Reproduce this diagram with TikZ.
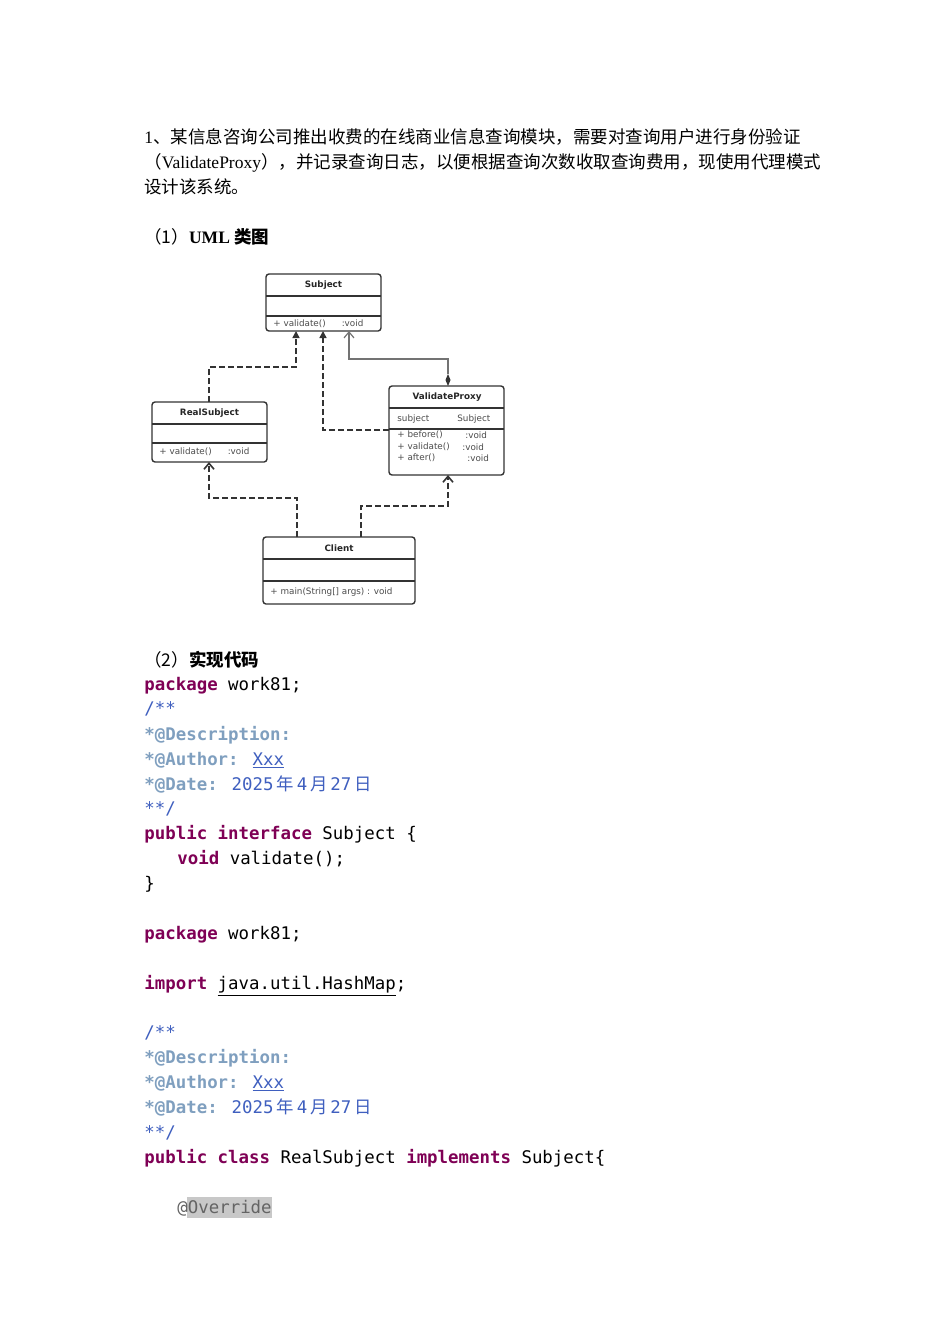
\documentclass[tikz,border=0pt]{standalone}
\usepackage{fontspec}
\setmainfont{Liberation Serif}
\newfontfamily\cjk{Noto Sans CJK SC}
\newfontfamily\umlf{DejaVu Sans}
\newfontfamily\codef{DejaVu Sans Mono}
\usetikzlibrary{arrows.meta}
\definecolor{kw}{HTML}{7F0055}
\definecolor{cm}{HTML}{3F5FBF}
\definecolor{tg}{HTML}{7F9FBF}
\definecolor{ov}{HTML}{646464}
\definecolor{ovbg}{HTML}{C8C8C8}
\tikzset{
 txt/.style={anchor=base west,inner sep=0pt,font=\fontsize{8.75}{10}\selectfont},
 code/.style={anchor=base west,inner sep=0pt,font=\codef\fontsize{8.7}{10}\selectfont},
 box/.style={draw=black!80,line width=0.7pt,rounded corners=1.5pt},
 sep/.style={draw=black!80,line width=0.6pt},
 uml/.style={inner sep=0pt,font=\umlf\fontsize{4.4}{5}\selectfont,text=black!70},
 umlh/.style={inner sep=0pt,font=\umlf\bfseries\fontsize{4.4}{5}\selectfont,text=black!85},
 dep/.style={draw=black!80,line width=0.8pt,dash pattern=on 3pt off 1.5pt},
 real/.style={-{Triangle[length=3.5pt,width=3.5pt]}},
 use/.style={-{Straight Barb[length=3pt,width=5pt]}},
}
\newcommand{\K}[1]{\textcolor{kw}{\bfseries #1}}
\newcommand{\T}[1]{\textcolor{tg}{\bfseries #1}}
\newcommand{\C}[1]{{\cjk #1}}
\begin{document}
\begin{tikzpicture}[x=0.5pt,y=-0.5pt]
\useasboundingbox[fill=white] (0,0) rectangle (950,1344);
% text
\node[txt] (l1) at (144,143) {1\C{、某信息咨询公司推出收费的在线商业信息查询模块，需要对查询用户进行身份验证}};
\node[txt] (l2) at (144,168) {\C{（}ValidateProxy\C{），并记录查询日志，以便根据查询次数收取查询费用，现使用代理模式}};
\node[txt] (l3) at (144,193) {\C{设计该系统。}};
\node[txt] (h1) at (144,243) {\C{（1）}\textbf{UML} \C{\bfseries 类图}};
\node[txt] (h2) at (144,666) {\C{（2）\bfseries 实现代码}};
% UML boxes
\draw[box] (266,274) rectangle (381,331);
\draw[sep] (266,296)--(381,296) (266,316)--(381,316);
\node[umlh] (sub) at (323.5,285) {Subject};
\node[uml,anchor=west] (subm) at (273,324) {+ validate()\hspace{8pt}:void};
\draw[box] (152,402) rectangle (267,462);
\draw[sep] (152,424)--(267,424) (152,443)--(267,443);
\node[umlh] (rs) at (209.5,413) {RealSubject};
\node[uml,anchor=west] (rsm) at (159,452) {+ validate()\hspace{8pt}:void};
\draw[box] (389,386) rectangle (504,475);
\draw[sep] (389,408)--(504,408) (389,429)--(504,429);
\node[umlh] (vp) at (447,397) {ValidateProxy};
\node[uml,anchor=west] (vpa) at (397,419) {subject};
\node[uml,anchor=west] (vpt) at (457,419) {Subject};
\node[uml,anchor=west] (vp1) at (397,435) {+ before()};
\node[uml,anchor=west] (vp2) at (397,447) {+ validate()};
\node[uml,anchor=west] (vp3) at (397,458) {+ after()};
\node[uml,anchor=west] (vr1) at (465,435) {:void};
\node[uml,anchor=west] (vr2) at (462,447) {:void};
\node[uml,anchor=west] (vr3) at (467,458) {:void};
\draw[box] (263,537) rectangle (415,604);
\draw[sep] (263,559)--(415,559) (263,581)--(415,581);
\node[umlh] (cl) at (339,548) {Client};
\node[uml,anchor=west] (clm) at (270,592) {+ main(String[] args) : void};
% connectors
\coordinate (a1) at (209,402); \coordinate (a2) at (296,331);
\draw[dep,real] (a1) |- (296,367) -- (a2);
\coordinate (b1) at (389,430); \coordinate (b2) at (323,331);
\draw[dep,real] (b1) -| (b2);
\coordinate (c1) at (448,374); \coordinate (c2) at (349,331);
\draw[black!55,line width=0.6pt,use] (c1) -- (448,359) -| (c2);
\fill[black!80] (448,386)--(450.5,380)--(448,374)--(445.5,380)--cycle;
\coordinate (d1) at (297,537); \coordinate (d2) at (209,462);
\draw[dep,use] (d1) |- (209,498) -- (d2);
\coordinate (e1) at (361,537); \coordinate (e2) at (448,475);
\draw[dep,use] (e1) |- (448,506) -- (e2);
% code
\node[code] (k1) at (144,690) {\K{package} work81;};
\node[code,text=cm] (k2) at (144,714) {/**};
\node[code] (k3) at (144,740) {\T{*@Description:}};
\node[code] (k4) at (144,765) {\T{*@Author:} \textcolor{cm}{\underline{Xxx}}};
\node[code] (k5) at (144,790) {\T{*@Date:} \textcolor{cm}{2025\,\C{年}\,4\,\C{月}\,27\,\C{日}}};
\node[code,text=cm] (k6) at (144,814) {**/};
\node[code] (k7) at (144,839) {\K{public} \K{interface} Subject \{};
\node[code] (k8) at (177,864) {\K{void} validate();};
\node[code] (k9) at (144,889) {\}};
\node[code] (k10) at (144,939) {\K{package} work81;};
\node[code] (k11) at (144,989) {\K{import} \underline{java.util.HashMap};};
\node[code,text=cm] (k12) at (144,1038) {/**};
\node[code] (k13) at (144,1063) {\T{*@Description:}};
\node[code] (k14) at (144,1088) {\T{*@Author:} \textcolor{cm}{\underline{Xxx}}};
\node[code] (k15) at (144,1113) {\T{*@Date:} \textcolor{cm}{2025\,\C{年}\,4\,\C{月}\,27\,\C{日}}};
\node[code,text=cm] (k16) at (144,1138) {**/};
\node[code] (k17) at (144,1163) {\K{public} \K{class} RealSubject \K{implements} Subject\{};
\fill[ovbg] (187,1197) rectangle (272,1218);
\node[code,text=ov] (k18) at (177,1213) {@Override};
\end{tikzpicture}
\end{document}
